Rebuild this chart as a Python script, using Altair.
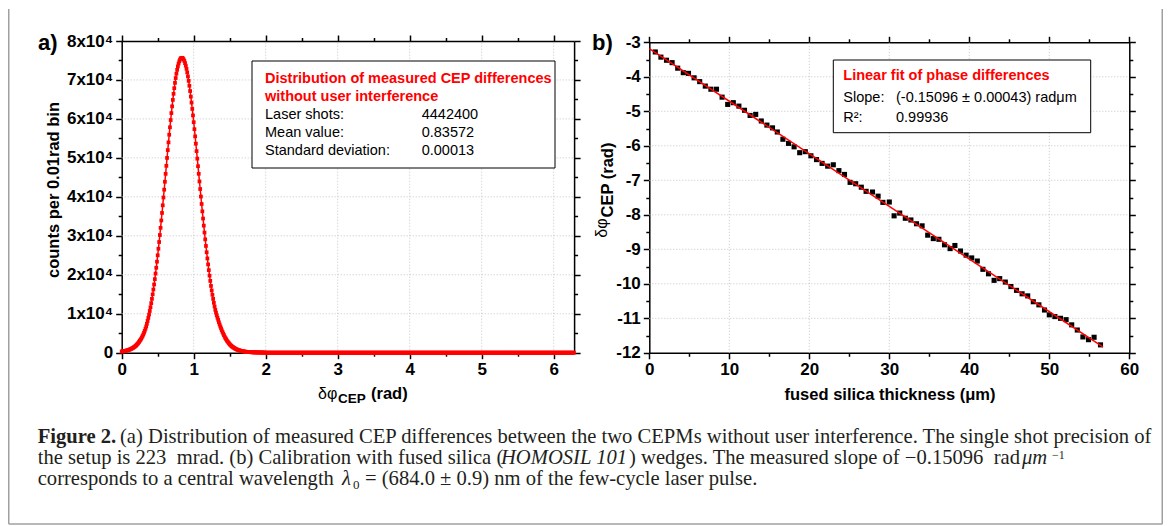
import math
import altair as alt
import pandas as pd

# ---------------- data: panel a (counts per 0.01 rad bin) ----------------
counts_core = [
    310, 340, 370, 400, 430, 470, 520, 560, 610, 670,
    740, 810, 880, 970, 1070, 1180, 1290, 1410, 1540, 1690,
    1860, 2050, 2260, 2490, 2740, 3030, 3290, 3590, 3910, 4280,
    4680, 5130, 5610, 6150, 6730, 7420, 8160, 8940, 9790, 10710,
    11680, 12720, 13820, 14980, 16220, 17510, 18880, 20310, 21800, 23360,
    25000, 26680, 28410, 30200, 32050, 33940, 35870, 37830, 39830, 41840,
    43880, 45910, 47960, 49990, 52000, 53990, 55940, 57850, 59710, 61500,
    63230, 64880, 66440, 67890, 69250, 70490, 71610, 72600, 73470, 74200,
    74790, 75230, 75530, 75680, 75680, 75550, 75280, 74870, 74320, 73660,
    72860, 71940, 70910, 69760, 68510, 67160, 65720, 64190, 62570, 60900,
    59160, 57370, 55530, 53650, 51740, 49810, 47870, 45910, 43960, 42010,
    40080, 38170, 36280, 34430, 32610, 30830, 29090, 27400, 25770, 24190,
    22660, 21190, 19780, 18430, 17140, 15970, 14850, 13800, 12800, 11870,
    10990, 10270, 9600, 8990, 8430, 7810, 7240, 6720, 6240, 5750,
    5310, 4890, 4510, 4120, 3760, 3450, 3150, 2890, 2650, 2410,
    2180, 1970, 1780, 1630, 1490, 1360, 1250, 1120, 1000, 905,
    830, 750, 690, 620, 565, 505, 460, 420, 380, 340,
    305, 270, 250, 230, 210, 190, 175, 160, 145, 130,
    120, 110, 100, 95, 90, 85, 80, 75, 70, 65,
    60, 55, 50, 48, 45, 42, 40, 38, 35, 32,
]
tail_zero_bins = 429          # bins 2.00 ... 6.28 read as empty
counts = counts_core + [0] * tail_zero_bins
bin_width = 0.01
phase_bins = [round(i * bin_width, 2) for i in range(len(counts))]

# ---------------- data: panel b (CEP vs fused silica thickness) ----------------
thickness = [0.75, 1.45, 2.15, 2.85, 3.55, 4.25, 4.9, 5.6, 6.3, 7.0, 7.7, 8.4, 9.1, 9.8,
             10.5, 11.2, 11.9, 12.6, 13.3, 14.0, 14.7, 15.4, 16.0, 16.7, 17.4, 18.1, 18.8,
             19.5, 20.2, 20.9, 21.6, 22.3, 23.0, 23.7, 24.4, 25.1, 25.8, 26.5, 27.1, 27.9,
             28.6, 29.2, 30.0, 30.6, 31.3, 32.0, 32.7, 33.4, 34.1, 34.8, 35.5, 36.2, 36.9,
             37.6, 38.2, 38.9, 39.6, 40.3, 41.0, 41.7, 42.4, 43.1, 43.8, 44.5, 45.2, 45.9,
             46.6, 47.3, 48.0, 48.7, 49.4, 50.0, 50.7, 51.4, 52.1, 52.8, 53.5, 54.2, 54.9,
             55.6, 56.4]
dphi = [-3.28, -3.43, -3.52, -3.59, -3.75, -3.88, -3.90, -4.03, -4.14, -4.27, -4.36, -4.36,
        -4.59, -4.80, -4.75, -4.85, -4.97, -5.12, -5.09, -5.28, -5.40, -5.48, -5.60, -5.81,
        -5.93, -6.03, -6.20, -6.17, -6.29, -6.40, -6.51, -6.59, -6.55, -6.72, -6.83, -7.06,
        -7.10, -7.20, -7.32, -7.34, -7.46, -7.64, -7.63, -8.03, -7.95, -8.10, -8.15, -8.26,
        -8.32, -8.59, -8.69, -8.71, -8.87, -8.98, -8.89, -9.05, -9.17, -9.25, -9.34, -9.58,
        -9.71, -9.90, -9.85, -9.95, -10.08, -10.19, -10.29, -10.35, -10.52, -10.61, -10.76,
        -10.90, -10.95, -11.00, -11.04, -11.19, -11.34, -11.54, -11.62, -11.55, -11.77]
fit_extent = [0, 56.7]

# tick / grid values
xa_ticks = [i * 0.5 for i in range(13)]
ya_ticks = [i * 5000 for i in range(17)]
xa_grid = [1, 2, 3, 4, 5, 6]
ya_grid = [10000, 20000, 30000, 40000, 50000, 60000, 70000]
xb_ticks = [i * 5 for i in range(13)]
yb_ticks = [-12 + i * 0.5 for i in range(19)]
xb_grid = [10, 20, 30, 40, 50]
yb_grid = [-11, -10, -9, -8, -7, -6, -5, -4]

# ---------------- layout constants (pixels inside the view) ----------------
W, H = 1155, 516
SANS = "Liberation Sans"
SERIF = "Liberation Serif"
RED = "#ff0000"
FRAME = "#a0a0a0"

A_X0, A_X1, A_Y0, A_Y1 = 113.7, 566.1, 343.7, 32.0
B_X0, B_X1, B_Y0, B_Y1 = 641.3, 1121.3, 343.8, 33.3

xa = alt.Scale(domain=[0, 2 * math.pi], range=[A_X0, A_X1], nice=False, zero=False)
ya = alt.Scale(domain=[0, 80000], range=[A_Y0, A_Y1], nice=False, zero=False)
xb = alt.Scale(domain=[0, 60], range=[B_X0, B_X1], nice=False, zero=False)
yb = alt.Scale(domain=[-12, -3], range=[B_Y0, B_Y1], nice=False, zero=False)


def tsize(test):
    return {"condition": {"test": test, "value": 6}, "value": 3.5}


def axis(orient, offset, values, labels, test, expr=None):
    kw = dict(orient=orient, offset=offset, values=values, title=None, grid=False,
              labels=labels, tickSize=tsize(test), labelOverlap=False, labelFlush=False)
    if expr is not None:
        kw["labelExpr"] = expr
    return alt.Axis(**kw)


def blank():
    return alt.Chart(alt.Data(values=[{}]))


def txt(text, x, y, size=14.5, weight="normal", color="black", align="left",
        angle=0, style="normal", font=SANS, baseline="middle"):
    return blank().mark_text(text=text, fontSize=size, fontWeight=weight, color=color,
                             align=align, angle=angle, fontStyle=style, font=font,
                             baseline=baseline).encode(x=alt.value(x), y=alt.value(y))


def box(x, x2, y, y2):
    return blank().mark_rect(fill="white", stroke="black", strokeWidth=1).encode(
        x=alt.value(x), x2=alt.value(x2), y=alt.value(y), y2=alt.value(y2))


def frame_line(x, x2, y, y2):
    return blank().mark_rule(color=FRAME, strokeWidth=1.5).encode(
        x=alt.value(x), x2=alt.value(x2), y=alt.value(y), y2=alt.value(y2))


grid_style = dict(color="#c4c4c4", strokeDash=[1, 2], strokeWidth=1)

# ---------------- panel a ----------------
dfa = pd.DataFrame({"phase": phase_bins, "counts": counts})
ga_v = alt.Chart(pd.DataFrame({"g": xa_grid, "lo": 0, "hi": 80000})).mark_rule(**grid_style).encode(
    x=alt.X("g:Q", scale=xa, axis=None), y=alt.Y("lo:Q", scale=ya, axis=None), y2="hi:Q")
ga_h = alt.Chart(pd.DataFrame({"g": ya_grid, "lo": 0, "hi": 2 * math.pi})).mark_rule(**grid_style).encode(
    y=alt.Y("g:Q", scale=ya, axis=None), x=alt.X("lo:Q", scale=xa, axis=None), x2="hi:Q")
line_a = alt.Chart(dfa).mark_line(color=RED, strokeWidth=1.5).encode(
    x=alt.X("phase:Q", scale=xa,
            axis=axis("top", -A_Y1, xa_ticks, False, "datum.value % 1 === 0")),
    y=alt.Y("counts:Q", scale=ya,
            axis=axis("right", A_X1 - W, ya_ticks, False, "datum.value % 10000 === 0")))
pts_a = alt.Chart(dfa).mark_square(color=RED, size=14, opacity=1).encode(
    x=alt.X("phase:Q", scale=xa,
            axis=axis("bottom", A_Y0 - H, xa_ticks, True, "datum.value % 1 === 0",
                      "datum.value % 1 === 0 ? format(datum.value, 'd') : ''")),
    y=alt.Y("counts:Q", scale=ya,
            axis=axis("left", -A_X0, ya_ticks, True, "datum.value % 10000 === 0",
                      "datum.value === 0 ? '0' : (datum.value % 10000 === 0 ? format(datum.value / 10000, 'd') + 'x10\u2074' : '')")))
panel_a = alt.layer(ga_v, ga_h, line_a, pts_a).resolve_axis(x="independent", y="independent")

# ---------------- panel b ----------------
dfb = pd.DataFrame({"thickness": thickness, "dphi": dphi})
gb_v = alt.Chart(pd.DataFrame({"g": xb_grid, "lo": -12, "hi": -3})).mark_rule(**grid_style).encode(
    x=alt.X("g:Q", scale=xb, axis=None), y=alt.Y("lo:Q", scale=yb, axis=None), y2="hi:Q")
gb_h = alt.Chart(pd.DataFrame({"g": yb_grid, "lo": 0, "hi": 60})).mark_rule(**grid_style).encode(
    y=alt.Y("g:Q", scale=yb, axis=None), x=alt.X("lo:Q", scale=xb, axis=None), x2="hi:Q")
pts_b = alt.Chart(dfb).mark_square(color="black", size=26, opacity=1).encode(
    x=alt.X("thickness:Q", scale=xb,
            axis=axis("bottom", B_Y0 - H, xb_ticks, True, "datum.value % 10 === 0",
                      "datum.value % 10 === 0 ? format(datum.value, 'd') : ''")),
    y=alt.Y("dphi:Q", scale=yb,
            axis=axis("left", -B_X0, yb_ticks, True, "datum.value % 1 === 0",
                      "datum.value % 1 === 0 ? '' + datum.value : ''")))
fit_b = alt.Chart(dfb).transform_regression("thickness", "dphi", extent=fit_extent).mark_line(
    color=RED, strokeWidth=1.5).encode(
    x=alt.X("thickness:Q", scale=xb,
            axis=axis("top", -B_Y1, xb_ticks, False, "datum.value % 10 === 0")),
    y=alt.Y("dphi:Q", scale=yb,
            axis=axis("right", B_X1 - W, yb_ticks, False, "datum.value % 1 === 0")))
panel_b = alt.layer(gb_v, gb_h, pts_b, fit_b).resolve_axis(x="independent", y="independent")

# ---------------- annotations ----------------
ann = [
    # figure frame (left, right, bottom; top edge lies outside the picture)
    frame_line(0.75, 0.75, 0, 515),
    frame_line(1154.25, 1154.25, 0, 515),
    frame_line(0.75, 1154.25, 515, 515),
    txt("a)", 30, 34, size=22, weight="bold"),
    txt("b)", 584, 34, size=22, weight="bold"),
    # axis titles panel a
    txt("counts per 0.01rad bin", 46, 181, size=16.5, weight="bold", align="center", angle=270),
    txt("\u03b4\u03c6", 310, 390, size=16, baseline="alphabetic"),
    txt("CEP", 330, 394, size=13.5, weight="bold", baseline="alphabetic"),
    txt("(rad)", 363, 390, size=16.5, weight="bold", baseline="alphabetic"),
    # axis titles panel b
    txt("fused silica thickness (\u03bcm)", 882, 386, size=16.5, weight="bold", align="center"),
    txt("\u03b4\u03c6", 594, 219, size=16, align="center", angle=270),
    txt("CEP (rad)", 600, 171, size=16.5, weight="bold", align="center", angle=270),
    # box a
    box(244, 547, 52, 159),
    txt("Distribution of measured CEP differences", 257, 70, weight="bold", color=RED),
    txt("without user interference", 257, 88, weight="bold", color=RED),
    txt("Laser shots:", 257, 106),
    txt("Mean value:", 257, 124),
    txt("Standard deviation:", 257, 142),
    txt("4442400", 413.7, 106),
    txt("0.83572", 413.7, 124),
    txt("0.00013", 413.7, 142),
    # box b
    box(825.3, 1082.7, 51, 123.7),
    txt("Linear fit of phase differences", 835.3, 67, weight="bold", color=RED),
    txt("Slope:", 835.3, 88.7),
    txt("R\u00b2:", 835.3, 108.7),
    txt("(-0.15096 \u00b1 0.00043) rad\u03bcm", 888, 88.7),
    txt("0.99936", 888, 108.7),
]

# ---------------- caption ----------------
CAP = 20.6
CAPC = "#231f20"
L1, L2, L3 = 434, 455, 476


def ctxt(text, x, y, **kw):
    kw.setdefault("size", CAP)
    return txt(text, x, y, font=SERIF, color=CAPC, baseline="alphabetic", **kw)


cap = [
    ctxt("Figure 2.", 29.7, L1, weight="bold"),
    ctxt("(a) Distribution of measured CEP differences between the two CEPMs without user interference. The single shot precision of",
         112, L1),
    ctxt("the setup is 223\u00a0\u00a0mrad. (b) Calibration with fused silica (", 29.7, L2),
    ctxt("HOMOSIL 101", 493, L2, style="italic"),
    ctxt(") wedges. The measured slope of \u22120.15096\u00a0\u00a0rad", 621, L2),
    ctxt("\u03bcm", 1014, L2, style="italic"),
    ctxt("\u22121", 1044, L2 - 5, size=12),
    ctxt("corresponds to a central wavelength", 29.7, L3),
    ctxt("\u03bb", 334, L3, style="italic"),
    ctxt("0", 345, L3 + 4, size=13),
    ctxt("= (684.0 \u00b1 0.9) nm of the few-cycle laser pulse.", 357, L3),
]

chart = alt.layer(panel_a, panel_b, *ann, *cap).resolve_scale(
    x="independent", y="independent").resolve_axis(x="independent", y="independent").properties(
    width=W, height=H, padding=0, background="white"
).configure_view(stroke=None).configure_axis(
    domainColor="black", domainWidth=1.5, tickColor="black", tickWidth=1.5,
    labelFont=SANS, labelFontSize=17, labelFontWeight="bold", labelColor="black", labelPadding=3
)

chart.save("out.html", embed_options={"renderer": "svg", "actions": False})
